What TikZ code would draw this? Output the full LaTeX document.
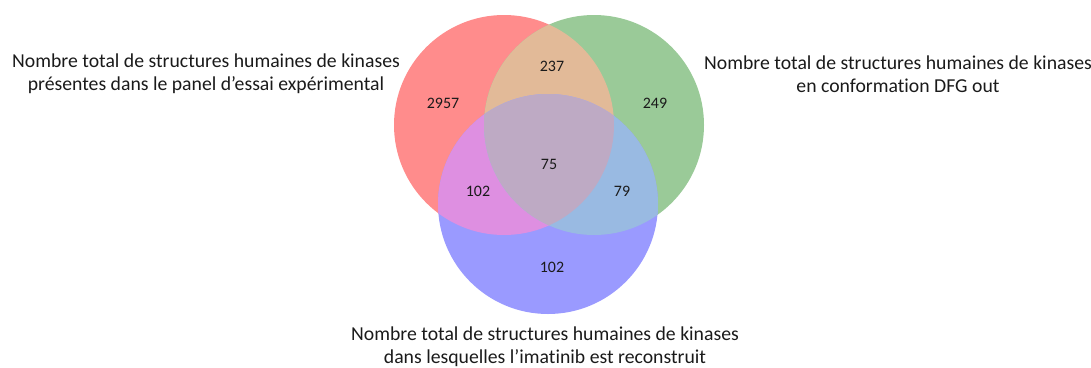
\documentclass[tikz,border=0pt]{standalone}
\usepackage{fontspec}
\setmainfont{Carlito}[Ligatures=NoCommon]
\usetikzlibrary{positioning}
\definecolor{ink}{HTML}{1A1A1A}
\definecolor{rfill}{HTML}{FF8C8C}
\definecolor{gfill}{HTML}{9ACA98}
\definecolor{bfill}{HTML}{9A9AFF}
\definecolor{rgfill}{HTML}{E2BA98}
\definecolor{rbfill}{HTML}{DE8FE1}
\definecolor{gbfill}{HTML}{99BAE2}
\definecolor{rgbfill}{HTML}{BEAAC4}

\begin{document}
\begin{tikzpicture}[
    x=1bp, y=-1bp, text=ink,
    setlbl/.style={font=\fontsize{19.8}{23}\selectfont, align=center, inner sep=0pt},
    num/.style={font=\fontsize{16}{18}\selectfont, inner sep=0pt},
  ]
  \useasboundingbox (0,0) rectangle (1091,367);

  % ---- the three sets
  \coordinate (cr) at (504,125);
  \coordinate (cg) at (594,125);
  \coordinate (cb) at (548,204);
  \def\rad{110}

  \fill[rfill] (cr) circle (\rad);
  \fill[gfill] (cg) circle (\rad);
  \fill[bfill] (cb) circle (\rad);

  % pairwise overlaps
  \begin{scope}
    \clip (cr) circle (\rad);
    \fill[rgfill] (cg) circle (\rad);
  \end{scope}
  \begin{scope}
    \clip (cr) circle (\rad);
    \fill[rbfill] (cb) circle (\rad);
  \end{scope}
  \begin{scope}
    \clip (cg) circle (\rad);
    \fill[gbfill] (cb) circle (\rad);
  \end{scope}
  % all three
  \begin{scope}
    \clip (cr) circle (\rad);
    \clip (cg) circle (\rad);
    \fill[rgbfill] (cb) circle (\rad);
  \end{scope}

  % ---- counts
  \node[num] (nr)   at (443,103) {2957};
  \node[num] (nrg)  at (552,66)  {237};
  \node[num] (ng)   at (655,103) {249};
  \node[num] (nrgb) at (549,164) {75};
  \node[num] (nrb)  at (478,191) {102};
  \node[num] (ngb)  at (622,191) {79};
  \node[num] (nb)   at (552,267) {102};

  % ---- set names
  \node[setlbl] (lr) at (206,74)
    {Nombre total de structures humaines de kinases\\ présentes dans le panel d’essai expérimental};
  \node[setlbl] (lg) at (898,74)
    {Nombre total de structures humaines de kinases\\ en conformation DFG out};
  \node[setlbl] (lb) at (545,347)
    {Nombre total de structures humaines de kinases\\ dans lesquelles l’imatinib est reconstruit};
\end{tikzpicture}
\end{document}
